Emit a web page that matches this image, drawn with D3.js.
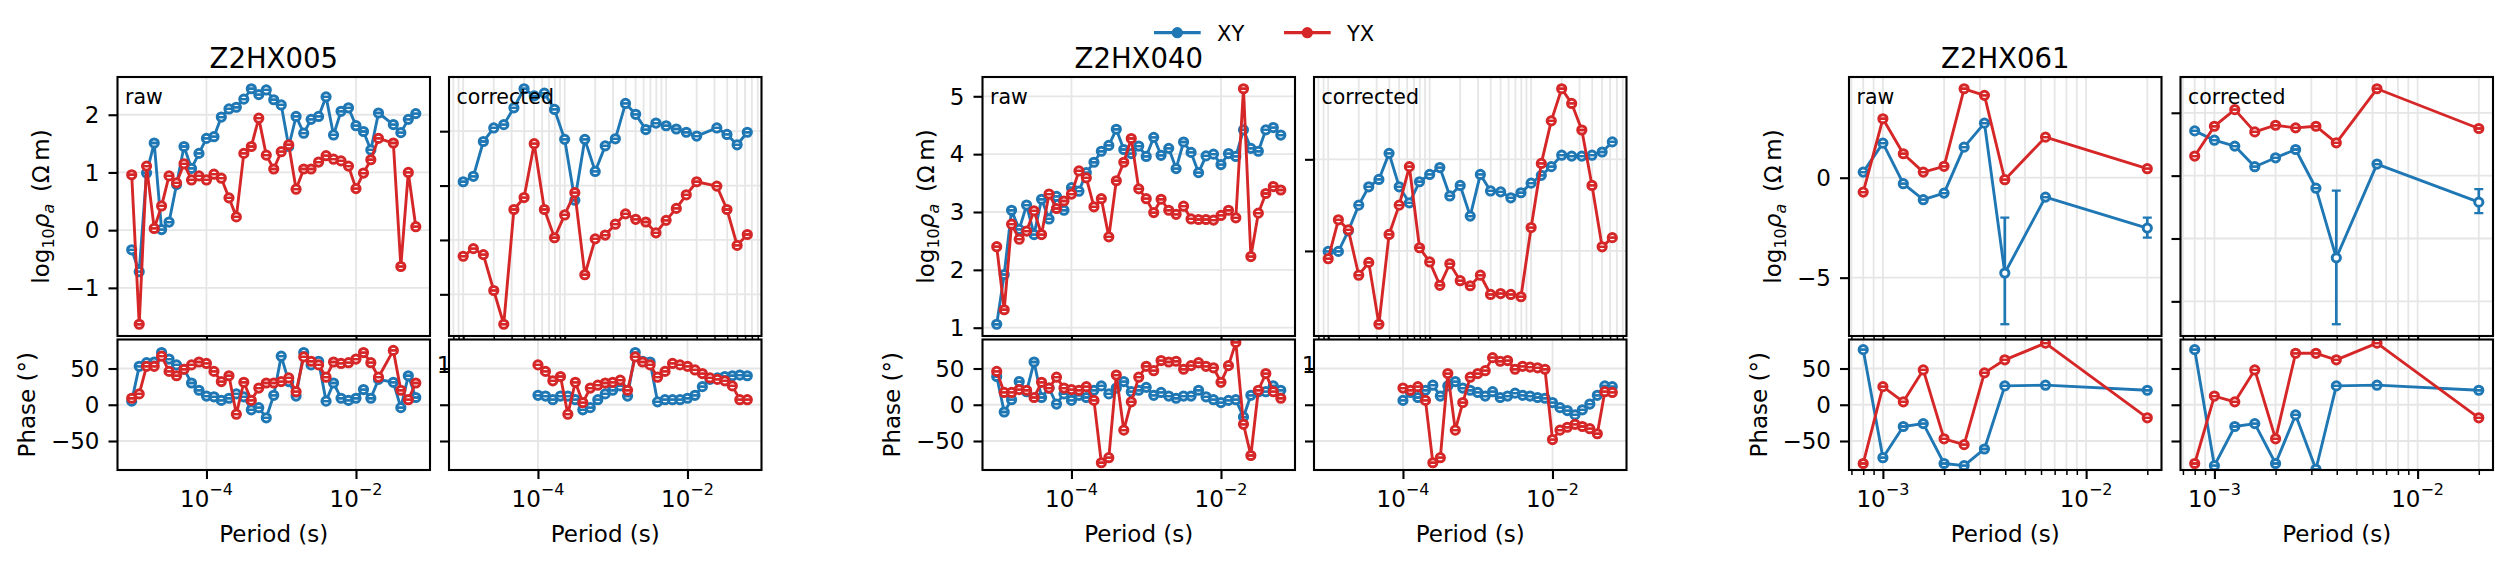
<!DOCTYPE html>
<html>
<head>
<meta charset="utf-8">
<script src="https://cdn.jsdelivr.net/npm/d3@7"></script>
<style>
  html, body { margin: 0; padding: 0; background: #fff; }
  svg { display: block; font-family: 'DejaVu Sans', sans-serif; }
</style>
</head>
<body>
<svg id="chart"></svg>
<script>
// ---- periods (s) ----
const T_raw_040 = [1.00e-5,1.26e-5,1.58e-5,2.00e-5,2.51e-5,3.16e-5,3.98e-5,5.01e-5,6.31e-5,7.94e-5,
  1.00e-4,1.26e-4,1.58e-4,2.00e-4,2.51e-4,3.16e-4,3.98e-4,5.01e-4,6.31e-4,7.94e-4,
  1.00e-3,1.26e-3,1.58e-3,2.00e-3,2.51e-3,3.16e-3,3.98e-3,5.01e-3,6.31e-3,7.94e-3,
  1.00e-2,1.26e-2,1.58e-2,2.00e-2,2.51e-2,3.16e-2,3.98e-2,5.01e-2,6.31e-2];
const T_raw_005 = [1.00e-5,1.26e-5,1.58e-5,2.00e-5,2.51e-5,3.16e-5,3.98e-5,5.01e-5,6.31e-5,7.94e-5,
  1.00e-4,1.26e-4,1.58e-4,2.00e-4,2.51e-4,3.16e-4,3.98e-4,5.01e-4,6.31e-4,7.94e-4,
  1.00e-3,1.26e-3,1.58e-3,2.00e-3,2.51e-3,3.16e-3,3.98e-3,5.01e-3,6.31e-3,7.94e-3,
  1.00e-2,1.26e-2,1.58e-2,2.00e-2,3.16e-2,3.98e-2,5.01e-2,6.31e-2];
const T_corRho_040 = [1.00e-5,1.26e-5,1.58e-5,2.00e-5,2.51e-5,3.16e-5,3.98e-5,5.01e-5,6.31e-5,7.94e-5,
  1.00e-4,1.26e-4,1.58e-4,2.00e-4,2.51e-4,3.16e-4,3.98e-4,5.01e-4,6.31e-4,7.94e-4,
  1.00e-3,1.26e-3,1.58e-3,2.00e-3,2.51e-3,3.16e-3,3.98e-3,5.01e-3,6.31e-3];
const T_corRho_005 = [1.00e-5,1.26e-5,1.58e-5,2.00e-5,2.51e-5,3.16e-5,3.98e-5,5.01e-5,6.31e-5,7.94e-5,
  1.00e-4,1.26e-4,1.58e-4,2.00e-4,2.51e-4,3.16e-4,3.98e-4,5.01e-4,6.31e-4,7.94e-4,
  1.00e-3,1.26e-3,1.58e-3,2.00e-3,3.16e-3,3.98e-3,5.01e-3,6.31e-3];
const T_corPhi = [1.00e-4,1.26e-4,1.58e-4,2.00e-4,2.51e-4,3.16e-4,3.98e-4,5.01e-4,6.31e-4,7.94e-4,
  1.00e-3,1.26e-3,1.58e-3,2.00e-3,2.51e-3,3.16e-3,3.98e-3,5.01e-3,6.31e-3,7.94e-3,
  1.00e-2,1.26e-2,1.58e-2,2.00e-2,2.51e-2,3.16e-2,3.98e-2,5.01e-2,6.31e-2];
const T_061 = [8.0e-4,1.0e-3,1.26e-3,1.58e-3,2.0e-3,2.51e-3,3.16e-3,3.98e-3,6.31e-3,2.0e-2];

// ---- Z2HX005 ----
const rho005rawXY = [-0.34,-0.72,0.99,1.51,0.01,0.14,0.79,1.45,1.07,1.33,1.59,1.62,1.96,2.10,2.13,2.27,2.45,2.35,2.43,2.26,
  2.17,1.45,1.97,1.68,1.92,1.97,2.31,1.65,2.06,2.12,1.81,1.71,1.39,2.03,1.83,1.69,1.92,2.02];
const rho005rawYX = [0.96,-1.63,1.11,0.03,0.42,0.94,0.82,1.15,0.87,0.94,0.87,0.97,0.90,0.56,0.23,1.33,1.45,1.94,1.30,1.06,
  1.36,1.48,0.71,1.06,1.06,1.18,1.29,1.23,1.20,1.11,0.72,0.99,1.22,1.59,1.51,-0.63,1.00,0.06];
const phi005rawXY = [5,53,58,59,72,63,55,49,30,20,12,11,6,9,15,11,-7,-4,-18,13,67,32,12,72,55,60,5,30,9,6,9,21,9,35,31,-4,40,10];
const phi005rawYX = [9,15,53,53,67,46,40,49,55,59,57,46,32,40,-13,31,6,23,30,30,32,37,18,66,60,55,38,59,57,58,63,72,58,38,75,20,7,30];
const rho005corXY = [1.07,1.17,1.81,2.06,2.12,2.43,2.78,2.65,2.70,2.40,1.85,0.73,1.85,1.26,1.73,1.86,2.51,2.31,2.03,2.15,
  2.10,2.04,1.98,1.91,2.06,1.94,1.75,1.98];
const rho005corYX = [-0.30,-0.16,-0.27,-0.93,-1.55,0.56,0.78,1.77,0.56,0.04,0.46,0.87,-0.64,0.02,0.09,0.29,0.48,0.38,0.33,0.13,
  0.36,0.58,0.83,1.07,0.99,0.56,-0.10,0.10];
const phi005corXY = [13,12,7,12,12,7,-7,-4,7,15,20,26,12,72,60,59,4,7,7,7,9,13,25,35,37,39,40,41,40];
const phi005corYX = [55,46,33,39,-13,31,3,23,27,30,31,34,20,66,59,55,38,46,57,55,53,48,43,37,35,33,26,7,7];

// ---- Z2HX040 ----
const rho040rawXY = [1.06,1.92,3.03,2.70,3.12,2.61,3.22,2.88,3.27,3.03,3.42,3.36,3.68,3.86,4.05,4.15,4.43,4.08,4.01,4.14,
  3.96,4.29,3.98,4.10,3.75,4.21,4.03,3.68,3.97,4.00,3.82,4.01,3.96,4.42,4.10,4.05,4.42,4.46,4.33];
const rho040rawYX = [2.40,1.31,2.79,2.53,2.67,3.02,2.61,3.31,3.06,3.19,3.31,3.71,3.59,3.09,3.23,2.57,3.54,3.86,4.27,3.40,
  3.23,2.99,3.22,3.03,2.96,3.10,2.88,2.87,2.87,2.86,2.94,3.03,2.90,5.13,2.23,2.98,3.32,3.44,3.38];
const phi040rawXY = [39,-10,7,32,18,59,10,23,1,15,6,13,10,20,26,15,23,32,18,20,24,13,17,12,9,12,12,20,11,7,3,6,7,-17,13,18,18,26,20];
const phi040rawYX = [46,17,17,21,20,10,31,23,38,23,21,20,25,6,-80,-73,41,-35,4,38,53,47,61,59,60,49,54,58,53,51,31,54,86,-27,-70,20,43,18,9];
const rho040corXY = [1.99,1.99,2.44,3.00,3.40,3.56,4.13,3.40,3.05,3.51,3.67,3.82,3.20,3.43,2.76,3.67,3.31,3.29,3.16,3.27,
  3.48,3.65,3.84,4.09,4.07,4.07,4.09,4.16,4.38];
const rho040corYX = [1.83,2.68,2.46,1.47,1.75,0.40,2.36,3.00,3.84,2.07,1.76,1.25,1.72,1.35,1.24,1.47,1.05,1.07,1.05,1.00,
  2.51,3.91,4.84,5.54,5.22,4.64,3.43,2.09,2.29];
const phi040corXY = [6,17,10,20,27,12,26,32,23,20,17,12,18,10,12,16,13,12,10,9,3,-4,-8,-14,-7,1,13,26,25];
const phi040corYX = [23,20,25,6,-80,-73,43,-35,3,38,43,47,65,60,61,49,53,52,51,49,-48,-35,-31,-27,-30,-33,-40,18,17];

// ---- Z2HX061 ----
const rho061rawXY = [0.28,1.73,-0.30,-1.10,-0.77,1.53,2.73,-4.77,-0.97,-2.52];
const rho061rawXYerrDn = [0,0,0,0,0,0,0,2.56,0,0.48];
const rho061rawXYerrUp = [0,0,0,0,0,0,0,2.77,0,0.52];
const rho061rawYX = [-0.72,2.95,1.20,0.28,0.57,4.45,4.12,-0.10,2.03,0.45];
const phi061rawXY = [76,-73,-30,-26,-81,-84,-61,26,27,20];
const phi061rawYX = [-81,25,4,48,-47,-55,44,62,85,-18];
const rho061corXY = [3.56,2.82,2.35,0.71,1.42,2.08,-1.00,-6.54,0.92,-2.11];
const rho061corXYerrDn = [0,0,0,0,0,0,0,5.28,0,0.87];
const rho061corXYerrUp = [0,0,0,0,0,0,0,5.35,0,1.03];
const rho061corYX = [1.56,3.93,5.25,3.48,4.01,3.80,3.93,2.61,6.91,3.75];
const phi061corXY = [76,-84,-30,-26,-81,-14,-89,26,27,20];
const phi061corYX = [-81,12,4,48,-47,71,71,62,85,-18];

// ---- ticks ----
const xMajor005 = [1e-4, 1e-2];
const xMajor040 = [1e-4, 1e-2];
const xMajor061 = [1e-3, 1e-2];
const xMajorCorRho = [1e-5, 1e-4, 1e-3];
const yTicksRho005raw = [-1, 0, 1, 2];
const yTicksRho005cor = [-1, 0, 1, 2];
const yTicksRho040raw = [1, 2, 3, 4, 5];
const yTicksRho040cor = [2, 4];
const yTicksRho061raw = [-5, 0];
const yTicksRho061cor = [-10, -5, 0, 5];
const yTicksPhase = [-50, 0, 50];
const phaseLimits = [-90, 90];

const components = ['XY', 'YX'];
const stationNames = ['Z2HX005', 'Z2HX040', 'Z2HX061'];

// ---- table built from the arrays ----
const sites = [
  { name: stationNames[0], xMajor: xMajor005, minor: false, corRhoMajor: xMajorCorRho, corRhoMinor: true,
    raw: { rhoT: T_raw_005, phiT: T_raw_005, rho: [rho005rawXY, rho005rawYX], phi: [phi005rawXY, phi005rawYX], rhoTicks: yTicksRho005raw },
    cor: { rhoT: T_corRho_005, phiT: T_corPhi, rho: [rho005corXY, rho005corYX], phi: [phi005corXY, phi005corYX], rhoTicks: yTicksRho005cor } },
  { name: stationNames[1], xMajor: xMajor040, minor: false, corRhoMajor: xMajorCorRho, corRhoMinor: true,
    raw: { rhoT: T_raw_040, phiT: T_raw_040, rho: [rho040rawXY, rho040rawYX], phi: [phi040rawXY, phi040rawYX], rhoTicks: yTicksRho040raw },
    cor: { rhoT: T_corRho_040, phiT: T_corPhi, rho: [rho040corXY, rho040corYX], phi: [phi040corXY, phi040corYX], rhoTicks: yTicksRho040cor } },
  { name: stationNames[2], xMajor: xMajor061, minor: true, corRhoMajor: xMajor061, corRhoMinor: true,
    raw: { rhoT: T_061, phiT: T_061, rho: [rho061rawXY, rho061rawYX], phi: [phi061rawXY, phi061rawYX], rhoTicks: yTicksRho061raw,
           rhoErr: [[rho061rawXYerrDn, rho061rawXYerrUp], null] },
    cor: { rhoT: T_061, phiT: T_061, rho: [rho061corXY, rho061corYX], phi: [phi061corXY, phi061corYX], rhoTicks: yTicksRho061cor,
           rhoErr: [[rho061corXYerrDn, rho061corXYerrUp], null] } }
];

// ---- layout / style ----
const W = 2505, H = 564;
const COLOR = { XY: '#1f77b4', YX: '#d62728' };
const GROUP_LEFT = [117.5, 982.5, 1849];
const PW = 312.5, PSTEP = 331.5;
const RHO_TOP = 77, RHO_H = 259, PH_TOP = 339.5, PH_H = 130.5;
const FS_TICK = 23, FS_LABEL = 23, FS_TITLE = 27.5, FS_TEXT = 20.5, FS_SUP = 16;
const TICK_MAJ = 9, TICK_MIN = 5, PAD = 9;
const GRID = '#e6e6e6';
const MARK_R = 4.1, MARK_W = 3.0, LINE_W = 2.9;

const svg = d3.select('#chart').attr('width', W).attr('height', H).attr('viewBox', '0 0 ' + W + ' ' + H);
svg.append('rect').attr('width', W).attr('height', H).attr('fill', '#fff');
const defs = svg.append('defs');
let clipN = 0;

function fmtNum(v){ return v < 0 ? '\u2212' + Math.abs(v) : String(v); }
function logDomain(list){
  const l = [].concat(...list).map(Math.log10);
  const [a, b] = d3.extent(l), m = (b - a) * 0.05;
  return [Math.pow(10, a - m), Math.pow(10, b + m)];
}
function linDomain(vals){
  const [a, b] = d3.extent(vals), m = (b - a) * 0.05;
  return [a - m, b + m];
}
function isDecade(d){ const m = Math.log10(d); return Math.abs(m - Math.round(m)) < 1e-6; }

function drawSeries(g, T, v, err, color, x, y){
  const pts = T.map((t, i) => ({ t, v: v[i],
    lo: v[i] - (err ? err[0][i] : 0), hi: v[i] + (err ? err[1][i] : 0) }));
  g.append('g').selectAll('line').data(pts.filter(p => p.hi > p.lo)).join('line')
    .attr('x1', p => x(p.t)).attr('x2', p => x(p.t))
    .attr('y1', p => y(p.lo)).attr('y2', p => y(p.hi))
    .attr('stroke', color).attr('stroke-width', 2.7);
  g.append('path').datum(pts)
    .attr('d', d3.line().x(p => x(p.t)).y(p => y(p.v)))
    .attr('fill', 'none').attr('stroke', color).attr('stroke-width', LINE_W).attr('stroke-linejoin', 'round');
  g.append('g').selectAll('circle').data(pts).join('circle')
    .attr('cx', p => x(p.t)).attr('cy', p => y(p.v)).attr('r', MARK_R)
    .attr('fill', '#fff').attr('stroke', color).attr('stroke-width', MARK_W);
  const caps = pts.flatMap(p => [{ t: p.t, v: p.lo }, { t: p.t, v: p.hi }]);
  g.append('g').selectAll('line').data(caps).join('line')
    .attr('x1', c => x(c.t) - 4.5).attr('x2', c => x(c.t) + 4.5)
    .attr('y1', c => y(c.v)).attr('y2', c => y(c.v))
    .attr('stroke', color).attr('stroke-width', 2.3);
}

function panel(p){
  const g = svg.append('g');
  const x = d3.scaleLog().domain(p.xDomain).range([p.left, p.left + p.w]);
  const y = d3.scaleLinear().domain(p.yDomain).range([p.top + p.h, p.top]);
  const [d0, d1] = p.xDomain;
  const major = p.xMajor.filter(d => d >= d0 && d <= d1);
  const minor = p.minor ? x.ticks().filter(d => !isDecade(d) && d >= d0 && d <= d1) : [];
  if (p.cover) g.append('rect').attr('x', p.left).attr('y', p.top).attr('width', p.w).attr('height', p.h).attr('fill', '#fff');

  // grid
  g.append('g').selectAll('line').data(major.concat(minor)).join('line')
    .attr('x1', d => x(d)).attr('x2', d => x(d)).attr('y1', p.top).attr('y2', p.top + p.h)
    .attr('stroke', GRID).attr('stroke-width', 1.8);
  g.append('g').selectAll('line').data(p.yTicks).join('line')
    .attr('x1', p.left).attr('x2', p.left + p.w).attr('y1', d => y(d)).attr('y2', d => y(d))
    .attr('stroke', GRID).attr('stroke-width', 1.8);

  // data
  const cid = 'clip' + (clipN++);
  defs.append('clipPath').attr('id', cid).append('rect')
    .attr('x', p.left).attr('y', p.top).attr('width', p.w).attr('height', p.h);
  const plot = g.append('g').attr('clip-path', 'url(#' + cid + ')');
  p.series.forEach(s => drawSeries(plot, s.T, s.v, s.err, s.color, x, y));

  if (p.text) g.append('text').attr('x', p.left + 7.5).attr('y', p.top + 27)
    .attr('font-size', FS_TEXT).attr('fill', '#000').text(p.text);

  // axes
  const ax = g.append('g').attr('transform', 'translate(0,' + (p.top + p.h) + ')')
    .call(d3.axisBottom(x).tickValues(major).tickSize(TICK_MAJ).tickSizeOuter(0).tickFormat(''));
  ax.select('.domain').remove();
  ax.selectAll('line').attr('stroke-width', 2.1);
  if (minor.length){
    const axm = g.append('g').attr('transform', 'translate(0,' + (p.top + p.h) + ')')
      .call(d3.axisBottom(x).tickValues(minor).tickSize(TICK_MIN).tickSizeOuter(0).tickFormat(''));
    axm.select('.domain').remove();
    axm.selectAll('line').attr('stroke-width', 1.5);
  }
  const ay = g.append('g').attr('transform', 'translate(' + p.left + ',0)')
    .call(d3.axisLeft(y).tickValues(p.yTicks).tickSize(TICK_MAJ).tickSizeOuter(0).tickFormat(''));
  ay.select('.domain').remove();
  ay.selectAll('line').attr('stroke-width', 2.1);

  if (p.xLabels){
    g.append('g').selectAll('text').data(major).join('text')
      .attr('x', d => x(d)).attr('y', p.top + p.h + 37).attr('text-anchor', 'middle')
      .attr('font-size', FS_TICK).attr('fill', '#000')
      .each(function(d){
        const e = Math.round(Math.log10(d)), t = d3.select(this);
        t.append('tspan').text('10');
        t.append('tspan').attr('dy', -12).attr('font-size', FS_SUP).text(fmtNum(e));
      });
  }
  let maxW = 0;
  if (p.yLabels){
    g.append('g').selectAll('text').data(p.yTicks).join('text')
      .attr('x', p.left - TICK_MAJ - PAD).attr('y', d => y(d) + 8.3).attr('text-anchor', 'end')
      .attr('font-size', FS_TICK).attr('fill', '#000').text(fmtNum)
      .each(function(){ maxW = Math.max(maxW, this.getComputedTextLength()); });
  }
  g.append('rect').attr('x', p.left).attr('y', p.top).attr('width', p.w).attr('height', p.h)
    .attr('fill', 'none').attr('stroke', '#000').attr('stroke-width', 2.1);
  return { maxW };
}

function seriesOf(T, vals, errs){
  return components.map((c, i) => ({ T, v: vals[i], err: errs ? errs[i] : null, color: COLOR[c] }));
}

sites.forEach((s, k) => {
  const L = GROUP_LEFT[k];
  const sharedX = logDomain([s.raw.rhoT, s.raw.phiT, s.cor.phiT]);
  const corRhoX = logDomain([s.cor.rhoT]);
  const rawRhoY = linDomain([].concat(...s.raw.rho.map((v, i) => {
    const e = s.raw.rhoErr && s.raw.rhoErr[i];
    return e ? v.flatMap((d, j) => [d - e[0][j], d + e[1][j]]) : v;
  })));
  const corRhoY = linDomain([].concat(...s.cor.rho.map((v, i) => {
    const e = s.cor.rhoErr && s.cor.rhoErr[i];
    return e ? v.flatMap((d, j) => [d - e[0][j], d + e[1][j]]) : v;
  })));

  const r1 = panel({ left: L, top: RHO_TOP, w: PW, h: RHO_H, xDomain: sharedX, yDomain: rawRhoY,
    xMajor: s.xMajor, minor: s.minor, yTicks: s.raw.rhoTicks, yLabels: true, xLabels: false, text: 'raw',
    series: seriesOf(s.raw.rhoT, s.raw.rho, s.raw.rhoErr) });
  panel({ left: L + PSTEP, top: RHO_TOP, w: PW, h: RHO_H, xDomain: corRhoX, yDomain: corRhoY,
    xMajor: s.corRhoMajor, minor: s.corRhoMinor, yTicks: s.cor.rhoTicks, yLabels: false, xLabels: true, text: 'corrected',
    series: seriesOf(s.cor.rhoT, s.cor.rho, s.cor.rhoErr) });
  const p1 = panel({ left: L, top: PH_TOP, w: PW, h: PH_H, xDomain: sharedX, yDomain: phaseLimits, cover: true,
    xMajor: s.xMajor, minor: s.minor, yTicks: yTicksPhase, yLabels: true, xLabels: true,
    series: seriesOf(s.raw.phiT, s.raw.phi, null) });
  panel({ left: L + PSTEP, top: PH_TOP, w: PW, h: PH_H, xDomain: sharedX, yDomain: phaseLimits, cover: true,
    xMajor: s.xMajor, minor: s.minor, yTicks: yTicksPhase, yLabels: false, xLabels: true,
    series: seriesOf(s.cor.phiT, s.cor.phi, null) });

  // titles and axis labels
  svg.append('text').attr('x', L + PW / 2).attr('y', 68).attr('text-anchor', 'middle')
    .attr('font-size', FS_TITLE).attr('fill', '#000').text(s.name);
  [L, L + PSTEP].forEach(px => {
    svg.append('text').attr('x', px + PW / 2).attr('y', PH_TOP + PH_H + 72).attr('text-anchor', 'middle')
      .attr('font-size', FS_LABEL).attr('fill', '#000').text('Period (s)');
  });
  const xr = L - TICK_MAJ - PAD - r1.maxW - 10.3 - 6;
  const rl = svg.append('text').attr('transform', 'translate(' + xr + ',' + (RHO_TOP + RHO_H / 2) + ') rotate(-90)')
    .attr('text-anchor', 'middle').attr('font-size', FS_LABEL).attr('fill', '#000');
  rl.append('tspan').text('log');
  rl.append('tspan').attr('dy', 5).attr('font-size', FS_SUP).text('10');
  rl.append('tspan').attr('dy', -5).attr('font-style', 'italic').text('\u03c1');
  rl.append('tspan').attr('dy', 5).attr('font-size', FS_SUP).attr('font-style', 'italic').text('a');
  rl.append('tspan').attr('dy', -5).text('\u2009 (\u03a9\u2009m)');
  const xp = L - TICK_MAJ - PAD - p1.maxW - 10.3 - 5.5;
  svg.append('text').attr('transform', 'translate(' + xp + ',' + (PH_TOP + PH_H / 2) + ') rotate(-90)')
    .attr('text-anchor', 'middle').attr('font-size', FS_LABEL).attr('fill', '#000').text('Phase (\u00b0)');
});

// legend
const leg = svg.append('g');
components.forEach((c, i) => {
  const x0 = 1154 + i * 130;
  leg.append('line').attr('x1', x0).attr('x2', x0 + 46.7).attr('y1', 32.7).attr('y2', 32.7)
    .attr('stroke', COLOR[c]).attr('stroke-width', 3.2);
  leg.append('circle').attr('cx', x0 + 23.3).attr('cy', 32.7).attr('r', MARK_R)
    .attr('fill', COLOR[c]).attr('stroke', COLOR[c]).attr('stroke-width', MARK_W);
  leg.append('text').attr('x', x0 + 63).attr('y', 41.3).attr('font-size', 21).attr('fill', '#000').text(c);
});
</script>
</body>
</html>
